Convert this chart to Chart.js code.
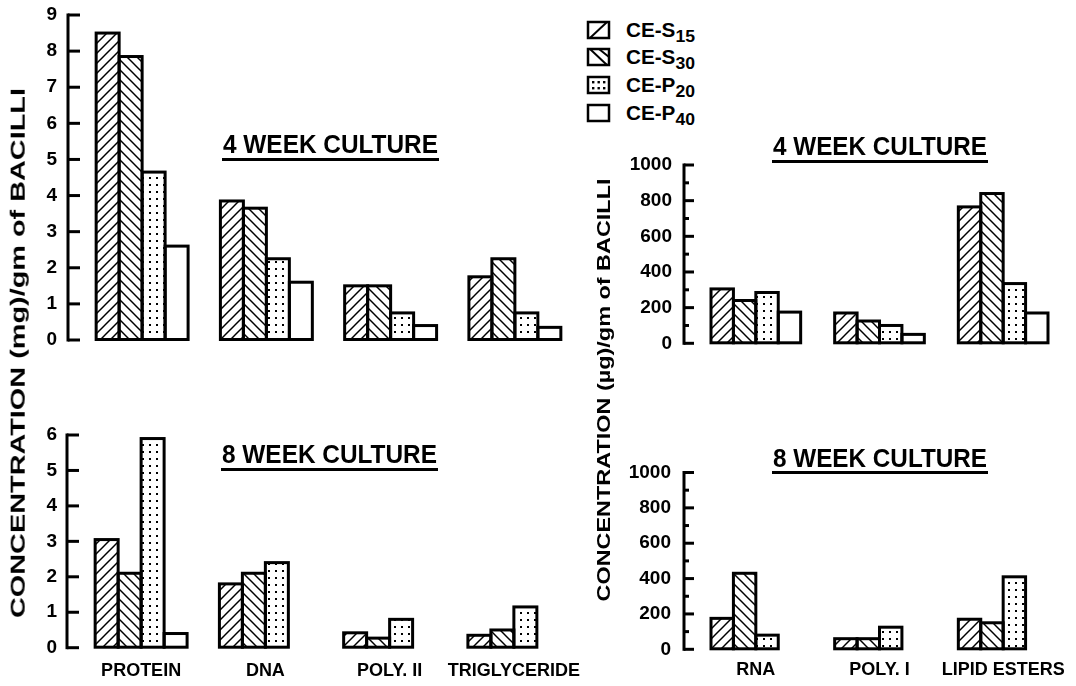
<!DOCTYPE html>
<html><head><meta charset="utf-8">
<script src="https://cdn.jsdelivr.net/npm/chart.js@4.4.1/dist/chart.umd.min.js"></script>
<style>
html,body{margin:0;padding:0;background:#fff;}
body{width:1076px;height:686px;position:relative;overflow:hidden;font-family:"Liberation Sans",Arial,sans-serif;font-weight:bold;color:#000;}
canvas{position:absolute;}
.t{position:absolute;white-space:nowrap;line-height:1;transform-origin:0 0;font-weight:bold;}
.ul{position:absolute;height:3px;background:#000;}
.sub{position:relative;}
</style></head><body>
<script>
// ---------- DATA ----------
const seriesNames = ['CE-S', 'CE-S', 'CE-P', 'CE-P'];
const seriesSubs  = ['15', '30', '20', '40'];
const leftCategories  = ['PROTEIN', 'DNA', 'POLY. II', 'TRIGLYCERIDE'];
const rightCategories = ['RNA', 'POLY. I', 'LIPID ESTERS'];
const panelTitles = ['4 WEEK CULTURE', '8 WEEK CULTURE'];
const yTitleLeft  = 'CONCENTRATION (mg)/gm of BACILLI';
const yTitleRight = 'CONCENTRATION (\u00b5g)/gm of BACILLI';

// 4 week culture, mg/gm
const w4_S15 = [8.5, 3.85, 1.5, 1.75];
const w4_S30 = [7.85, 3.65, 1.5, 2.25];
const w4_P20 = [4.65, 2.25, 0.75, 0.75];
const w4_P40 = [2.6, 1.6, 0.4, 0.35];
// 8 week culture, mg/gm
const w8_S15 = [3.05, 1.8, 0.42, 0.35];
const w8_S30 = [2.1, 2.1, 0.27, 0.5];
const w8_P20 = [5.9, 2.4, 0.8, 1.15];
const w8_P40 = [0.4, null, null, null];
// 4 week culture, ug/gm
const w4r_S15 = [305, 170, 765];
const w4r_S30 = [240, 125, 840];
const w4r_P20 = [285, 100, 335];
const w4r_P40 = [175, 50, 170];
// 8 week culture, ug/gm
const w8r_S15 = [175, 60, 170];
const w8r_S30 = [430, 60, 150];
const w8r_P20 = [80, 125, 410];
const w8r_P40 = [null, null, null];

const FONT = '"Liberation Sans", Arial, sans-serif';
const CLEAR = 'rgba(0,0,0,0)';

// pick a condensed face for the category labels if it is installed
function hasFont(name) {
  const c = document.createElement('canvas').getContext('2d');
  const probe = 'TRIGLYCERIDE POLY. II';
  c.font = 'bold 40px monospace'; const a = c.measureText(probe).width;
  c.font = 'bold 40px "' + name + '", monospace'; const b = c.measureText(probe).width;
  return Math.abs(a - b) > 1;
}
const NARROW = hasFont('Liberation Sans Narrow');
const X_FONT = NARROW ? { family: '"Liberation Sans Narrow", ' + FONT, size: 21, weight: 'bold' }
                      : { family: FONT, size: 18, weight: 'bold' };

// ---------- patterns ----------
function makeTile(kind){
  const s = kind === 'dots' ? 7 : 10;
  const c = document.createElement('canvas'); c.width = s; c.height = s;
  const g = c.getContext('2d');
  g.fillStyle = '#fff'; g.fillRect(0, 0, s, s);
  g.strokeStyle = '#000'; g.lineWidth = 1.5;
  if (kind === 'fwd') {
    g.beginPath(); g.moveTo(-2, s + 2); g.lineTo(s + 2, -2); g.stroke();
    g.beginPath(); g.moveTo(-2, 2); g.lineTo(2, -2); g.stroke();
    g.beginPath(); g.moveTo(s - 2, s + 2); g.lineTo(s + 2, s - 2); g.stroke();
  } else if (kind === 'back') {
    g.beginPath(); g.moveTo(-2, -2); g.lineTo(s + 2, s + 2); g.stroke();
    g.beginPath(); g.moveTo(s - 2, -2); g.lineTo(s + 2, 2); g.stroke();
    g.beginPath(); g.moveTo(-2, s - 2); g.lineTo(2, s + 2); g.stroke();
  } else if (kind === 'dots') {
    g.fillStyle = '#000'; g.fillRect(2, 2, 2, 2);
  }
  return c;
}
const tiles = [makeTile('fwd'), makeTile('back'), makeTile('dots')];

// ---------- plugins ----------
const axisPlugin = {
  id: 'axisDraw',
  afterDraw(chart, args, opts) {
    const y = chart.scales.y, ctx = chart.ctx, L = chart.chartArea.left;
    const ax = L - opts.tick;
    ctx.save();
    ctx.strokeStyle = '#000'; ctx.lineWidth = 3;
    ctx.beginPath();
    ctx.moveTo(ax, y.getPixelForValue(y.max) - 1.5);
    ctx.lineTo(ax, y.getPixelForValue(y.min) + 1.5);
    ctx.stroke();
    y.ticks.forEach(t => {
      const py = y.getPixelForValue(t.value);
      const len = (t.value % opts.major === 0) ? opts.tick : opts.minor;
      ctx.beginPath(); ctx.moveTo(ax, py); ctx.lineTo(ax + len, py); ctx.stroke();
    });
    ctx.restore();
  }
};
const outlinePlugin = {
  id: 'outline',
  afterDatasetsDraw(chart) {
    const ctx = chart.ctx;
    ctx.save(); ctx.strokeStyle = '#000'; ctx.lineWidth = 3;
    chart.data.datasets.forEach((ds, i) => {
      const meta = chart.getDatasetMeta(i);
      meta.data.forEach((el, j) => {
        if (ds.data[j] == null) return;
        const p = el.getProps(['x', 'y', 'base', 'width'], true);
        ctx.strokeRect(p.x - p.width / 2, p.y, p.width, p.base - p.y);
      });
    });
    ctx.restore();
  }
};

function mkCanvas(x, y, w, h) {
  const c = document.createElement('canvas');
  c.width = w; c.height = h;
  c.style.left = x + 'px'; c.style.top = y + 'px';
  c.style.width = w + 'px'; c.style.height = h + 'px';
  document.body.appendChild(c);
  return c;
}

function makeChart(canvas, cats, series, cfg) {
  const ctx = canvas.getContext('2d');
  const fills = [ctx.createPattern(tiles[0], 'repeat'), ctx.createPattern(tiles[1], 'repeat'),
                 ctx.createPattern(tiles[2], 'repeat'), '#ffffff'];
  return new Chart(ctx, {
    type: 'bar',
    data: {
      labels: cats,
      datasets: series.map((d, i) => ({
        label: seriesNames[i] + seriesSubs[i], data: d, backgroundColor: fills[i],
        borderWidth: 0, categoryPercentage: cfg.catPct, barPercentage: 1
      }))
    },
    options: {
      responsive: false, maintainAspectRatio: false, animation: false, devicePixelRatio: 1,
      layout: { padding: { top: cfg.padTop, right: cfg.padRight, bottom: 0, left: 0 } },
      plugins: { legend: { display: false }, tooltip: { enabled: false },
                 axisDraw: { tick: cfg.tick, minor: cfg.minor, major: cfg.labelStep } },
      scales: {
        x: {
          display: true,
          grid: { display: true, drawOnChartArea: false, drawTicks: true, tickLength: cfg.xPad || 0, color: CLEAR },
          border: { display: false },
          ticks: { display: cfg.showX, font: X_FONT, color: '#000',
                   padding: 0, autoSkip: false, maxRotation: 0, minRotation: 0 },
          afterFit: s => { s.height = cfg.xHeight; }
        },
        y: {
          min: 0, max: cfg.yMax,
          grid: { display: true, drawOnChartArea: false, drawTicks: true, tickLength: cfg.yPad, color: CLEAR },
          border: { display: false },
          ticks: { stepSize: cfg.step, autoSkip: false, font: { family: FONT, size: 19, weight: 'bold' },
                   color: '#000', padding: 0,
                   callback: v => (v % cfg.labelStep === 0 ? String(v) : '') },
          afterFit: s => { s.width = cfg.yWidth; }
        }
      }
    },
    plugins: [axisPlugin, outlinePlugin]
  });
}

// top-left
makeChart(mkCanvas(0, 0, 590, 360), leftCategories, [w4_S15, w4_S30, w4_P20, w4_P40],
  { yMax: 9, step: 1, labelStep: 1, yWidth: 80, padTop: 15, padRight: 13, showX: false, xHeight: 20,
    catPct: 0.74, tick: 12, minor: 12, yPad: 23 });
// bottom-left
makeChart(mkCanvas(0, 400, 590, 286), leftCategories, [w8_S15, w8_S30, w8_P20, w8_P40],
  { yMax: 6, step: 1, labelStep: 1, yWidth: 79, padTop: 35, padRight: 14, showX: true, xHeight: 38.3, xPad: 13,
    catPct: 0.74, tick: 12, minor: 12, yPad: 22 });
// top-right
makeChart(mkCanvas(600, 140, 476, 220), rightCategories, [w4r_S15, w4r_S30, w4r_P20, w4r_P40],
  { yMax: 1000, step: 100, labelStep: 200, yWidth: 94, padTop: 25, padRight: 11, showX: false, xHeight: 16.7,
    catPct: 0.725, tick: 10, minor: 5, yPad: 22 });
// bottom-right
makeChart(mkCanvas(600, 440, 476, 246), rightCategories, [w8r_S15, w8r_S30, w8r_P20, w8r_P40],
  { yMax: 1000, step: 100, labelStep: 200, yWidth: 94, padTop: 32.5, padRight: 11, showX: true, xHeight: 36.7, xPad: 10,
    catPct: 0.725, tick: 10, minor: 5, yPad: 23 });

// ---------- text ----------
function addText(parts, x, baseline, size, width) {
  const d = document.createElement('div'); d.className = 't';
  d.style.fontSize = size + 'px';
  parts.forEach(p => {
    const s = document.createElement('span'); s.textContent = p.t;
    if (p.sub) { s.className = 'sub'; s.style.fontSize = p.sub + 'px'; s.style.top = p.dy + 'px'; }
    d.appendChild(s);
  });
  document.body.appendChild(d);
  const w = d.getBoundingClientRect().width;
  d.style.left = x + 'px';
  d.style.top = (baseline - 0.8465 * size) + 'px';
  if (width) d.style.transform = 'scaleX(' + (width / w) + ')';
  return d;
}
function addVText(text, cx, cy, size, length) {
  const d = document.createElement('div'); d.className = 't';
  d.style.fontSize = size + 'px'; d.textContent = text;
  document.body.appendChild(d);
  const r = d.getBoundingClientRect();
  d.style.left = (cx - r.width / 2) + 'px'; d.style.top = (cy - r.height / 2) + 'px';
  d.style.transformOrigin = '50% 50%';
  d.style.transform = 'rotate(-90deg) scaleX(' + (length / r.width) + ')';
}
function addRule(x, y, w) {
  const d = document.createElement('div'); d.className = 'ul';
  d.style.left = x + 'px'; d.style.top = y + 'px'; d.style.width = w + 'px';
  document.body.appendChild(d);
}

// panel titles
addText([{ t: panelTitles[0] }], 223, 153.5, 25, 215); addRule(222, 158, 217);
addText([{ t: panelTitles[0] }], 773, 155, 25, 214); addRule(772, 160, 216);
addText([{ t: panelTitles[1] }], 222, 463, 25, 215); addRule(221, 468, 217);
addText([{ t: panelTitles[1] }], 773, 467, 25, 214); addRule(772, 471, 216);

// y titles
addVText(yTitleLeft, 18, 353, 20, 530);
addVText(yTitleRight, 603, 390, 18, 423);

// legend
const legendY = [29.5, 57, 85, 112.5];
seriesNames.forEach((n, i) => {
  const c = mkCanvas(585, legendY[i] - 11, 27, 22);
  const g = c.getContext('2d');
  const bx = 3, by = 3, bw = 21, bh = 16;
  g.fillStyle = '#fff'; g.fillRect(bx, by, bw, bh);
  g.save(); g.beginPath(); g.rect(bx, by, bw, bh); g.clip();
  g.strokeStyle = '#000'; g.lineWidth = 2; g.fillStyle = '#000';
  if (i === 0) { g.beginPath(); g.moveTo(bx + 2, by + bh); g.lineTo(bx + bw - 2, by); g.stroke(); }
  if (i === 1) { g.beginPath(); g.moveTo(bx + 2, by); g.lineTo(bx + bw - 2, by + bh); g.stroke();
                 g.beginPath(); g.moveTo(bx + 11, by); g.lineTo(bx + bw, by + 8); g.stroke(); }
  if (i === 2) { [5, 10.5, 16].forEach(dx => [5, 11].forEach(dy => g.fillRect(bx + dx - 1, by + dy - 1, 2.4, 2.4))); }
  g.restore();
  g.strokeStyle = '#000'; g.lineWidth = 2.5; g.strokeRect(bx, by, bw, bh);
  addText([{ t: n }, { t: seriesSubs[i], sub: 17, dy: 5 }], 626, legendY[i] + 7, 20, 69);
});
</script>
</body></html>
